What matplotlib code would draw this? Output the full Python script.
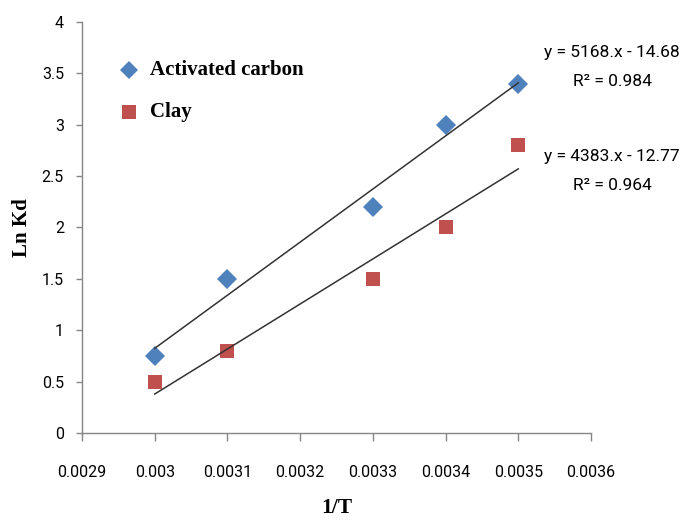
import numpy as np
import matplotlib.pyplot as plt

# 1/T values and ln Kd for each adsorbent
inv_t = [0.0030, 0.0031, 0.0033, 0.0034, 0.0035]
ln_kd_carbon = [0.75, 1.5, 2.2, 3.0, 3.4]
ln_kd_clay = [0.5, 0.8, 1.5, 2.0, 2.8]

# linear fits (slope, intercept, R^2)
fit_carbon = (5168, -14.68, 0.984)
fit_clay = (4383, -12.77, 0.964)

x_ticks = [0.0029, 0.0030, 0.0031, 0.0032, 0.0033, 0.0034, 0.0035, 0.0036]
x_tick_labels = ['0.0029', '0.003', '0.0031', '0.0032', '0.0033', '0.0034', '0.0035', '0.0036']
y_ticks = [0, 0.5, 1, 1.5, 2, 2.5, 3, 3.5, 4]
y_tick_labels = ['0', '0.5', '1', '1.5', '2', '2.5', '3', '3.5', '4']

blue = '#4F81BD'
red = '#C0504D'
axis_col = '#868686'
tick_font = ['Roboto', 'DejaVu Sans']
serif = ['Liberation Serif', 'DejaVu Serif']

fig = plt.figure(figsize=(6.85, 5.22), dpi=100)
ax = fig.add_axes([0.1197, 0.1705, 0.7431, 0.7874])

ax.plot(inv_t, ln_kd_carbon, 'D', color=blue, markersize=10, markeredgewidth=0, zorder=3)
ax.plot(inv_t, ln_kd_clay, 's', color=red, markersize=10, markeredgewidth=0, zorder=3)

# trendlines drawn over the data range
xl = np.array([inv_t[0], inv_t[-1]])
for m, b, r2 in (fit_carbon, fit_clay):
    ax.plot(xl, m * xl + b, color='#333333', linewidth=1.1, zorder=4)

ax.set_xlim(0.0029, 0.0036)
ax.set_ylim(0, 4)
ax.set_xticks(x_ticks)
ax.set_xticklabels(x_tick_labels, family=tick_font, fontsize=11.5)
ax.set_yticks(y_ticks)
ax.set_yticklabels(y_tick_labels, family=tick_font, fontsize=11.5)
ax.tick_params(axis='x', direction='out', length=6, width=1, color=axis_col, pad=17)
ax.tick_params(axis='y', direction='out', length=4, width=1, color=axis_col, pad=9)

for s in ('top', 'right'):
    ax.spines[s].set_visible(False)
for s in ('left', 'bottom'):
    ax.spines[s].set_color(axis_col)
    ax.spines[s].set_linewidth(1)

ax.set_xlabel('1/T', family=serif, fontweight='bold', fontsize=15.5, labelpad=13)
ax.set_ylabel('Ln Kd', family=serif, fontweight='bold', fontsize=15, labelpad=7)

# legend entries
ax.plot([0.002964], [3.53], 'D', color=blue, markersize=9, markeredgewidth=0, clip_on=False)
ax.plot([0.002964], [3.12], 's', color=red, markersize=10, markeredgewidth=0, clip_on=False)
ax.text(0.002993, 3.53, 'Activated carbon', family=serif, fontweight='bold', fontsize=15,
        va='center', ha='left')
ax.text(0.002993, 3.12, 'Clay', family=serif, fontweight='bold', fontsize=15,
        va='center', ha='left')

# fit equations
for (m, b, r2), yy in ((fit_carbon, 3.70), (fit_clay, 2.69)):
    ax.text(0.003629, yy, 'y = %d.x - %.2f' % (m, abs(b)), family=tick_font, fontsize=12.5,
            ha='center', va='center')
    ax.text(0.003629, yy - 0.28, 'R² = %.3f' % r2, family=tick_font, fontsize=12.5,
            ha='center', va='center')

fig.savefig('out.png', dpi=100)
